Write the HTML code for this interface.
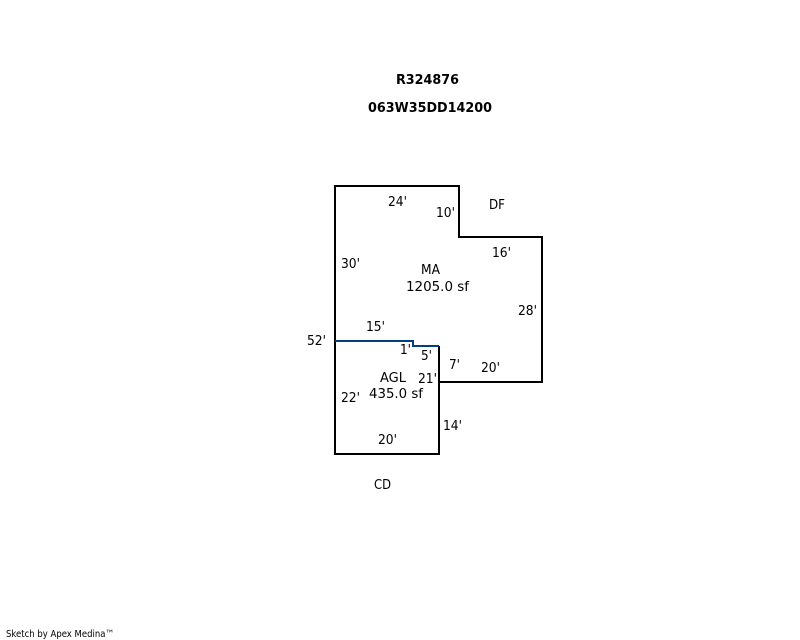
<!DOCTYPE html>
<html><head><meta charset="utf-8"><style>
html,body{margin:0;padding:0;background:#fff}
svg{display:block}
text{font-family:"DejaVu Sans","Liberation Sans",sans-serif;font-size:13px;fill:#000}
.b{font-weight:bold;font-size:13px}
</style></head><body>
<svg width="800" height="640" viewBox="0 0 800 640" xmlns="http://www.w3.org/2000/svg">
<rect width="800" height="640" fill="#fff"/>
<g fill="none" stroke-width="2" shape-rendering="crispEdges">
<path d="M335 341V186H459V237H542V382H439" stroke="#000"/>
<path d="M439 346V454H335V341" stroke="#000"/>
<path d="M335 341H413V346H439" stroke="#004080"/>
</g>
<g lengthAdjust="spacingAndGlyphs">
<text class="b" x="396" y="84" textLength="63" lengthAdjust="spacingAndGlyphs">R324876</text>
<text class="b" x="368" y="112" textLength="124" lengthAdjust="spacingAndGlyphs">063W35DD14200</text>
<text x="388" y="206" textLength="19" lengthAdjust="spacingAndGlyphs">24'</text>
<text x="436" y="217" textLength="19" lengthAdjust="spacingAndGlyphs">10'</text>
<text x="489" y="209" textLength="16" lengthAdjust="spacingAndGlyphs">DF</text>
<text x="492" y="257" textLength="19" lengthAdjust="spacingAndGlyphs">16'</text>
<text x="341" y="268" textLength="19" lengthAdjust="spacingAndGlyphs">30'</text>
<text x="421" y="274" textLength="19" lengthAdjust="spacingAndGlyphs">MA</text>
<text x="406" y="291" textLength="63" lengthAdjust="spacingAndGlyphs">1205.0 sf</text>
<text x="518" y="315" textLength="19" lengthAdjust="spacingAndGlyphs">28'</text>
<text x="366" y="331" textLength="19" lengthAdjust="spacingAndGlyphs">15'</text>
<text x="307" y="345" textLength="19" lengthAdjust="spacingAndGlyphs">52'</text>
<text x="400" y="354" textLength="11" lengthAdjust="spacingAndGlyphs">1'</text>
<text x="421" y="360" textLength="11" lengthAdjust="spacingAndGlyphs">5'</text>
<text x="449" y="369" textLength="11" lengthAdjust="spacingAndGlyphs">7'</text>
<text x="481" y="372" textLength="19" lengthAdjust="spacingAndGlyphs">20'</text>
<text x="380" y="382" textLength="26" lengthAdjust="spacingAndGlyphs">AGL</text>
<text x="418" y="383" textLength="19" lengthAdjust="spacingAndGlyphs">21'</text>
<text x="369" y="398" textLength="54" lengthAdjust="spacingAndGlyphs">435.0 sf</text>
<text x="341" y="402" textLength="19" lengthAdjust="spacingAndGlyphs">22'</text>
<text x="443" y="430" textLength="19" lengthAdjust="spacingAndGlyphs">14'</text>
<text x="378" y="444" textLength="19" lengthAdjust="spacingAndGlyphs">20'</text>
<text x="374" y="489" textLength="17" lengthAdjust="spacingAndGlyphs">CD</text>
</g>
<text x="6" y="637" style="font-size:10px" textLength="108" lengthAdjust="spacingAndGlyphs">Sketch by Apex Medina™</text>
</svg>
</body></html>
